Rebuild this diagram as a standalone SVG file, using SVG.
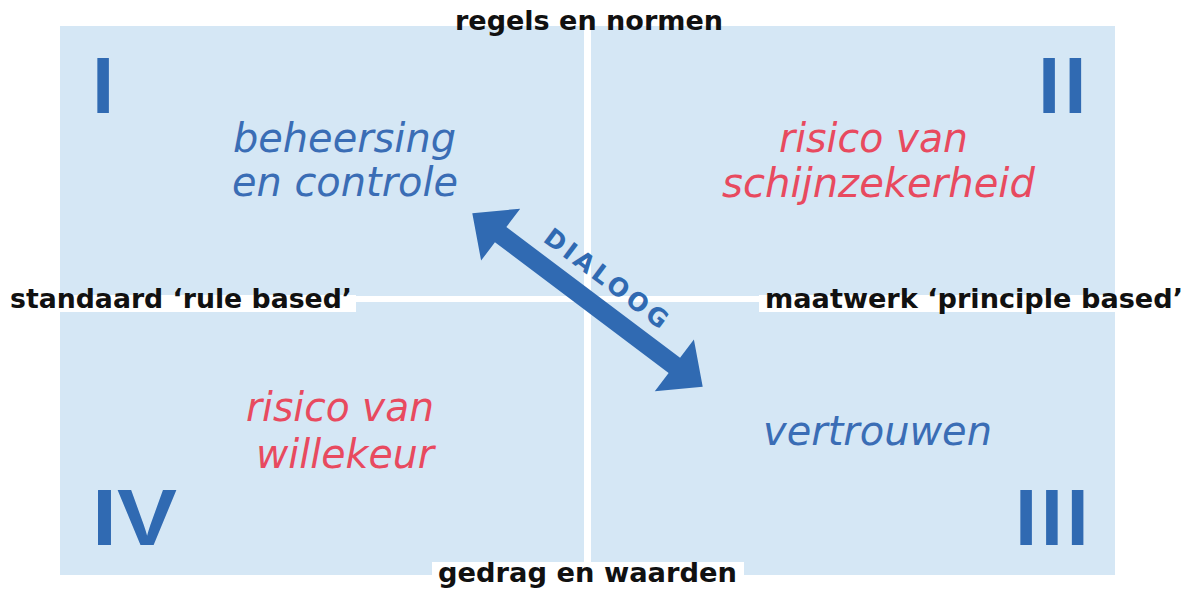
<svg xmlns="http://www.w3.org/2000/svg" width="1189" height="592" viewBox="0 0 1189 592">
<style>
.q{fill:#D5E7F5}
.lbl{font-family:"DejaVu Sans",sans-serif;font-weight:bold;font-size:26px;fill:#111}
.it{font-family:"DejaVu Sans",sans-serif;font-style:italic;font-size:40px}
.blue{fill:#3A6DB5}
.red{fill:#E84A5F}
.num{font-family:"Liberation Sans",Arial,sans-serif;font-weight:bold;font-size:80px;fill:#306AB2}
.bg{fill:#fff}
</style>
<rect width="1189" height="592" fill="#fff"/>
<g id="quadrants">
<rect class="q" x="60" y="26" width="524" height="270"/>
<rect class="q" x="591" y="26" width="524" height="270"/>
<rect class="q" x="60" y="302" width="524" height="273"/>
<rect class="q" x="591" y="302" width="524" height="273"/>
</g>
<g id="label-top"><text class="lbl" x="455" y="30" textLength="268" lengthAdjust="spacingAndGlyphs">regels en normen</text></g>
<g id="label-bottom"><rect class="bg" x="432" y="562" width="312" height="30"/><text class="lbl" x="438" y="582" textLength="299" lengthAdjust="spacingAndGlyphs">gedrag en waarden</text></g>
<g id="label-left"><rect class="bg" x="0" y="295" width="356" height="17"/><text class="lbl" x="10" y="308" textLength="342" lengthAdjust="spacingAndGlyphs">standaard ‘rule based’</text></g>
<g id="label-right"><rect class="bg" x="759" y="295" width="430" height="17"/><text class="lbl" x="765" y="308" textLength="418" lengthAdjust="spacingAndGlyphs">maatwerk ‘principle based’</text></g>
<g id="q1">
<text class="num" x="92" y="113">I</text>
<text class="it blue" x="233" y="152" textLength="223" lengthAdjust="spacingAndGlyphs">beheersing</text>
<text class="it blue" x="232" y="196" textLength="226" lengthAdjust="spacingAndGlyphs">en controle</text>
</g>
<g id="q2">
<text class="num" x="1038" y="113" letter-spacing="4">II</text>
<text class="it red" x="779" y="152" textLength="189" lengthAdjust="spacingAndGlyphs">risico van</text>
<text class="it red" x="722" y="197" textLength="313" lengthAdjust="spacingAndGlyphs">schijnzekerheid</text>
</g>
<g id="q3">
<text class="num" x="1015" y="545" letter-spacing="3.5">III</text>
<text class="it blue" x="763" y="445" textLength="229" lengthAdjust="spacingAndGlyphs">vertrouwen</text>
</g>
<g id="q4">
<text class="num" x="92" y="545" textLength="85" lengthAdjust="spacingAndGlyphs">IV</text>
<text class="it red" x="246" y="421" textLength="188" lengthAdjust="spacingAndGlyphs">risico van</text>
<text class="it red" x="256" y="468" textLength="178" lengthAdjust="spacingAndGlyphs">willekeur</text>
</g>
<g id="connectors">
<g transform="translate(587.5,300) rotate(36.97)">
<polygon fill="#306AB2" points="-144.2,0 -108.7,-32.5 -108.7,-9.5 108.7,-9.5 108.7,-32.5 144.2,0 108.7,32.5 108.7,9.5 -108.7,9.5 -108.7,32.5"/>
<text x="2" y="-20" text-anchor="middle" font-family="DejaVu Sans, sans-serif" font-weight="bold" font-size="25" fill="#306AB2" textLength="148" lengthAdjust="spacing">DIALOOG</text>
</g>
</g>
</svg>
